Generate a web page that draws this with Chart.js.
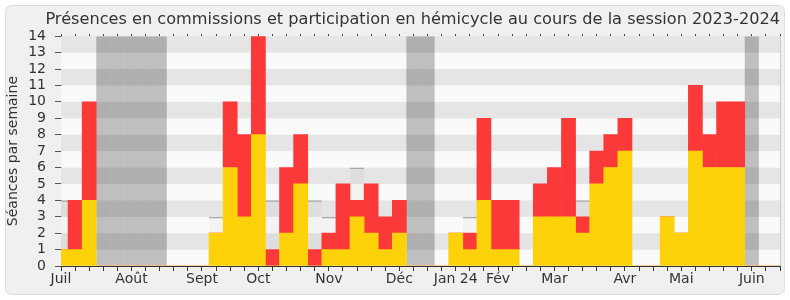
<!DOCTYPE html>
<html lang="fr">
<head>
<meta charset="utf-8">
<title>Présences 2023-2024</title>
<script src="https://cdn.jsdelivr.net/npm/chart.js@4/dist/chart.umd.min.js"></script>
<style>
  body { margin: 0; background: #ffffff; }
  #graficoPresences { display: block; }
</style>
</head>
<body>
<canvas id="graficoPresences" width="790" height="300"></canvas>
<script>
// Semaines de la session (0 = première semaine de juillet 2023)
var semaines = Array.from({ length: 52 }, function (_, i) { return i; });

// Présences en commission par semaine
var commissions = [1, 1, 4, 0, 0, 0, 0, 0, 0, 0, 0, 2, 6, 3, 8, 0, 2, 5, 0, 1, 1, 3, 2, 1, 2, 0,
                   0, 0, 2, 1, 4, 1, 1, 0, 3, 3, 3, 2, 5, 6, 7, 0, 0, 3, 2, 7, 6, 6, 6, 0, 0, 0];

// Participation en hémicycle par semaine
var hemicycle = [0, 3, 6, 0, 0, 0, 0, 0, 0, 0, 0, 0, 4, 5, 6, 1, 4, 3, 1, 1, 4, 1, 3, 2, 2, 0,
                 0, 0, 0, 1, 5, 3, 3, 0, 2, 3, 6, 1, 2, 2, 2, 0, 0, 0, 0, 4, 2, 4, 4, 0, 0, 0];

// Présence médiane (seulement là où elle est visible)
var mediane = [4, null, null, null, null, null, null, null, null, null, null, 3, null, null, null, 4, null, null, 4, 3, null, 6, null, null, null, null,
               null, null, null, 3, null, null, null, null, null, null, null, 4, null, null, null, null, null, null, null, null, null, null, null, null, null, null];

// Semaines de vacances parlementaires
var vacances = [3, 4, 5, 6, 7, 25, 26, 49];

// Étiquettes des mois sur l'axe
var moisSemaines = [0, 5, 10, 14, 19, 24, 28, 31, 35, 40, 44, 49];
var moisNoms = ["Juil", "Août", "Sept", "Oct", "Nov", "Déc", "Jan 24", "Fév", "Mar", "Avr", "Mai", "Juin"];

var yMax = 14;

document.addEventListener("DOMContentLoaded", function (event) {
  dibujarGrafico();
});

// Fond gris arrondi + bandes horizontales alternées
var fondPlugin = {
  id: "fond",
  beforeDraw: function (chart) {
    var ctx = chart.ctx;
    ctx.save();
    ctx.fillStyle = "#ffffff";
    ctx.fillRect(0, 0, chart.width, chart.height);
    ctx.beginPath();
    ctx.roundRect(5.5, 5.5, 779, 289, 6);
    ctx.fillStyle = "#f0f0f0";
    ctx.fill();
    ctx.strokeStyle = "#dcdcdc";
    ctx.lineWidth = 1;
    ctx.stroke();
    ctx.restore();
  },
  beforeDatasetsDraw: function (chart) {
    var ctx = chart.ctx;
    var area = chart.chartArea;
    var y = chart.scales.y;
    ctx.save();
    for (var v = 0; v < yMax; v++) {
      var y1 = y.getPixelForValue(v + 1);
      var y2 = y.getPixelForValue(v);
      ctx.fillStyle = v % 2 === 1 ? "#e5e5e5" : "#fafafa";
      ctx.fillRect(area.left, y1, area.right - area.left, y2 - y1);
    }
    ctx.restore();
  },
  afterDatasetsDraw: function (chart) {
    var ctx = chart.ctx;
    var area = chart.chartArea;
    ctx.save();
    ctx.strokeStyle = "#cccccc";
    ctx.lineWidth = 1;
    ctx.beginPath();
    ctx.moveTo(area.right + 0.5, area.top);
    ctx.lineTo(area.right + 0.5, area.bottom);
    ctx.stroke();
    ctx.restore();
  }
};

function dibujarGrafico() {
  var datosVacances = semaines.map(function (s) {
    return vacances.indexOf(s) >= 0 ? yMax : null;
  });

  const datos = {
    labels: semaines,
    datasets: [
      {
        label: "Présences en commission",
        data: commissions,
        backgroundColor: "#fdd20a",
        borderWidth: 0,
        stack: "a",
        order: 1
      },
      {
        label: "Participation en hémicycle",
        data: hemicycle,
        backgroundColor: "#fb3939",
        borderWidth: 0,
        stack: "a",
        order: 1
      },
      {
        label: "Médiane",
        data: mediane,
        backgroundColor: "rgba(0, 0, 0, 0.028)",
        borderColor: "#a8a8a8",
        borderWidth: { top: 1.5, left: 0, right: 0, bottom: 0 },
        borderSkipped: false,
        inflateAmount: 0,
        stack: "m",
        order: 3
      },
      {
        label: "Vacances",
        data: datosVacances,
        backgroundColor: "rgba(0, 0, 0, 0.236)",
        borderWidth: 0,
        inflateAmount: 0,
        stack: "v",
        order: 4
      }
    ]
  };

  const config = {
    type: "bar",
    data: datos,
    plugins: [fondPlugin],
    options: {
      responsive: false,
      animation: false,
      devicePixelRatio: 1,
      layout: { padding: { left: 0, right: 10, top: 0, bottom: 0 } },
      datasets: {
        bar: { grouped: false, barPercentage: 1, categoryPercentage: 1 }
      },
      plugins: {
        legend: { display: false },
        tooltip: { enabled: false },
        title: {
          display: true,
          text: "Présences en commissions et participation en hémicycle au cours de la session 2023-2024",
          align: "end",
          color: "#333333",
          font: { family: "DejaVu Sans", size: 16.15, weight: "normal" },
          padding: { top: 10, bottom: 0 }
        }
      },
      scales: {
        x: {
          type: "category",
          offset: false,
          stacked: true,
          grid: { offset: false, drawOnChartArea: false, tickLength: 5, tickColor: "#333333" },
          border: { color: "#333333", width: 1 },
          ticks: {
            autoSkip: false,
            maxRotation: 0,
            padding: 0,
            color: "#333333",
            font: { family: "DejaVu Sans", size: 14 },
            callback: function (value, index) {
              var i = moisSemaines.indexOf(index);
              return i >= 0 ? moisNoms[i] : "";
            }
          },
          afterFit: function (scale) { scale.height = 34; }
        },
        x2: {
          type: "category",
          position: "top",
          offset: false,
          grid: { offset: false, drawOnChartArea: false, tickLength: 2, tickColor: "#333333" },
          border: { display: false },
          ticks: { display: false },
          afterFit: function (scale) { scale.height = 6.8; }
        },
        y: {
          stacked: true,
          min: 0,
          max: yMax,
          grid: { drawOnChartArea: false, tickLength: 6, tickColor: "#555555" },
          border: { color: "#333333", width: 1 },
          ticks: {
            stepSize: 1,
            autoSkip: false,
            padding: 9,
            color: "#333333",
            font: { family: "DejaVu Sans", size: 14 }
          },
          title: {
            display: true,
            text: "Séances par semaine",
            color: "#333333",
            font: { family: "DejaVu Sans", size: 14 },
            padding: { top: 5, bottom: 0 }
          },
          afterFit: function (scale) { scale.width = 61; }
        }
      }
    }
  };

  const ctx = document.getElementById("graficoPresences").getContext("2d");
  new Chart(ctx, config);
}
</script>
</body>
</html>
